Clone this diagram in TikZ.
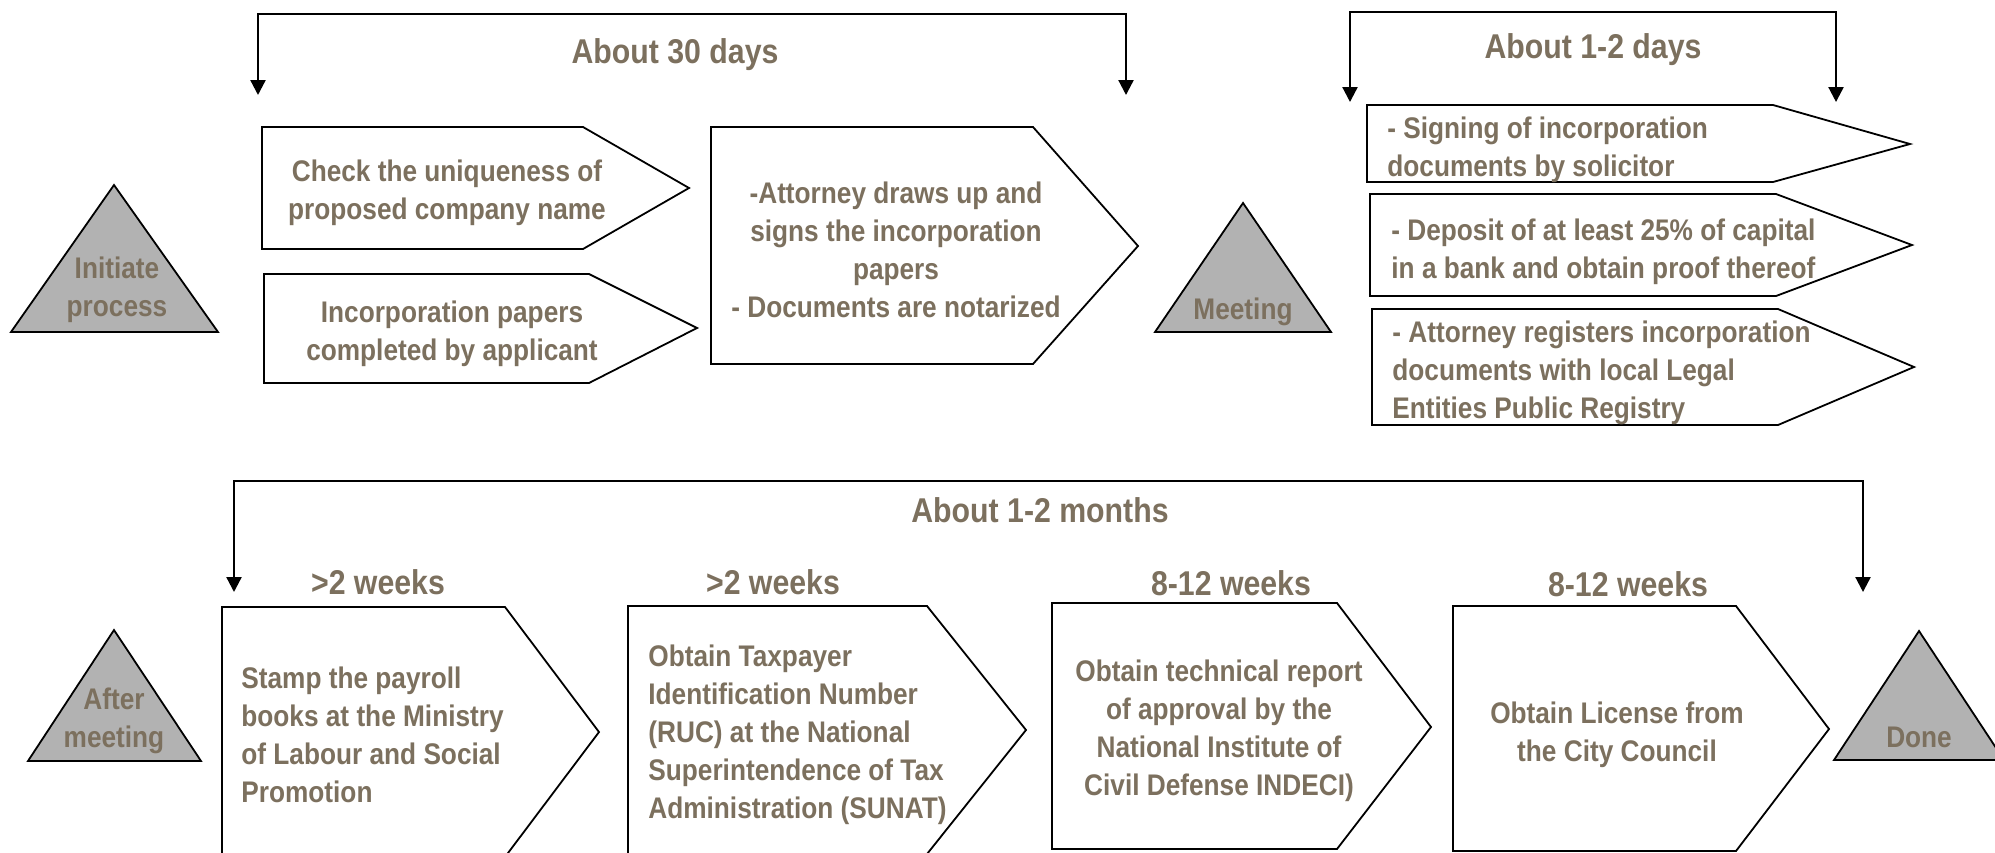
\documentclass[tikz,border=0pt]{standalone}
\usepackage{fontspec}
\setmainfont{Liberation Sans}[FakeStretch=0.88]
\usetikzlibrary{arrows.meta}
\definecolor{txt}{RGB}{124,112,94}
\definecolor{trifill}{RGB}{178,178,178}
\begin{document}
\begin{tikzpicture}[x=0.5pt,y=-0.5pt]
\tikzset{
 shp/.style={draw=black, line width=0.9pt, fill=white, line join=miter},
 tri/.style={draw=black, line width=0.9pt, fill=trifill, line join=miter},
 brk/.style={line width=1.15pt, arrows={Triangle[width=7.5pt,length=7.5pt]-Triangle[width=7.5pt,length=7.5pt]}},
 body/.style={text=txt, font=\bfseries\fontsize{14.9}{19}\selectfont, inner sep=0pt},
 head/.style={text=txt, font=\bfseries\fontsize{17.2}{21}\selectfont, inner sep=0pt},
}
\useasboundingbox (0,0) rectangle (1995,852);
\clip (0,0) rectangle (1995,852);

% ---------- top left group ----------
\draw[tri] (114,185) -- (218,332) -- (11,332) -- cycle;
\node[body, align=center] (t1txt) at (117,290) {Initiate\\process};

\draw[shp] (262,127) -- (583,127) -- (689,188) -- (583,249) -- (262,249) -- cycle;
\node[body, align=center] (b1txt) at (447,193) {Check the uniqueness of\\proposed company name};

\draw[shp] (264,274) -- (589,274) -- (697,328) -- (589,383) -- (264,383) -- cycle;
\node[body, align=center] (b2txt) at (452,334) {Incorporation papers\\completed by applicant};

\draw[shp] (711,127) -- (1033,127) -- (1138,246) -- (1033,364) -- (711,364) -- cycle;
\node[body, align=center] (b3txt) at (896,250) {-Attorney draws up and\\signs the incorporation\\papers\\- Documents are notarized};

\coordinate (b1l) at (258,95);
\coordinate (b1top) at (692,14);
\coordinate (b1r) at (1126,95);
\draw[brk] (b1l) |- (b1top) -| (b1r);
\node[head] (lab1) at (675,55) {About 30 days};

% ---------- top right group ----------
\draw[tri] (1243,203) -- (1331,332) -- (1155,332) -- cycle;
\node[body] (meettxt) at (1243,312) {Meeting};

\coordinate (b2l) at (1350,102);
\coordinate (b2top) at (1593,12);
\coordinate (b2r) at (1836,102);
\draw[brk] (b2l) |- (b2top) -| (b2r);
\node[head] (lab2) at (1593,50) {About 1-2 days};

\draw[shp] (1367,105) -- (1773,105) -- (1910,144) -- (1773,182) -- (1367,182) -- cycle;
\node[body, align=left, anchor=west] (bAtxt) at (1387,149.5) {- Signing of incorporation\\documents by solicitor};

\draw[shp] (1370,194) -- (1776,194) -- (1912,245) -- (1776,296) -- (1370,296) -- cycle;
\node[body, align=left, anchor=west] (bBtxt) at (1391,252) {- Deposit of at least 25\% of capital\\in a bank and obtain proof thereof};

\draw[shp] (1372,309) -- (1778,309) -- (1914,367) -- (1778,425) -- (1372,425) -- cycle;
\node[body, align=left, anchor=west] (bCtxt) at (1392,372.5) {- Attorney registers incorporation\\documents with local Legal\\Entities Public Registry};

% ---------- bottom row ----------
\coordinate (b3l) at (234,592);
\coordinate (b3top) at (1048,481);
\coordinate (b3r) at (1863,592);
\draw[brk] (b3l) |- (b3top) -| (b3r);
\node[head] (lab3) at (1040,510) {About 1-2 months};

\draw[tri] (114,630) -- (201,761) -- (28,761) -- cycle;
\node[body, align=center] (t3txt) at (114,721) {After\\meeting};

\node[head] (w1) at (378,582) {>2 weeks};
\node[head] (w2) at (773,582) {>2 weeks};
\node[head] (w3) at (1231,583) {8-12 weeks};
\node[head] (w4) at (1628,584) {8-12 weeks};

\draw[shp] (222,607) -- (505,607) -- (599,732) -- (505,857) -- (222,857) -- cycle;
\node[body, align=left, anchor=west] (r1txt) at (241,734.5) {Stamp the payroll\\books at the Ministry\\of Labour and Social\\Promotion};

\draw[shp] (628,606) -- (927,606) -- (1026,730) -- (927,854) -- (628,854) -- cycle;
\node[body, align=left, anchor=west] (r2txt) at (648,735) {Obtain Taxpayer\\Identification Number\\(RUC) at the National\\Superintendence of Tax\\Administration (SUNAT)};

\draw[shp] (1052,603) -- (1337,603) -- (1431,727) -- (1337,849) -- (1052,849) -- cycle;
\node[body, align=center] (r3txt) at (1219,731) {Obtain technical report\\of approval by the\\National Institute of\\Civil Defense INDECI)};

\draw[shp] (1453,606) -- (1736,606) -- (1829,729) -- (1736,851) -- (1453,851) -- cycle;
\node[body, align=center] (r4txt) at (1617,735) {Obtain License from\\the City Council};

\draw[tri] (1919,631) -- (2004,760) -- (1834,760) -- cycle;
\node[body] (donetxt) at (1919,737) {Done};
\end{tikzpicture}
\end{document}
